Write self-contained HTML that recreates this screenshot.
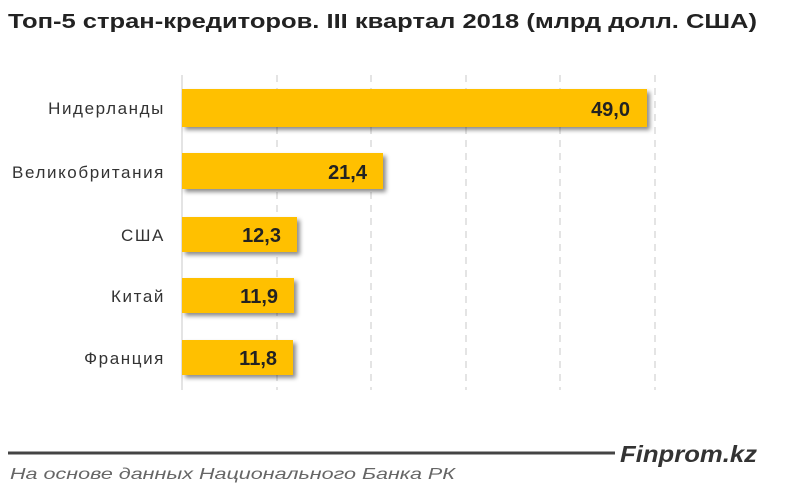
<!DOCTYPE html>
<html><head><meta charset="utf-8"><style>
body{margin:0;width:800px;height:490px;background:#fff;overflow:hidden;font-family:"Liberation Sans",sans-serif;}
</style></head><body>
<svg width="800" height="490" xmlns="http://www.w3.org/2000/svg">
<defs><filter id="sh" x="-5%" y="-20%" width="115%" height="160%"><feDropShadow dx="3" dy="3" stdDeviation="2" flood-color="#000" flood-opacity="0.45"/></filter></defs>
<text x="8" y="28" font-size="20" font-weight="bold" fill="#222" textLength="749" lengthAdjust="spacingAndGlyphs">Топ-5 стран-кредиторов. III квартал 2018  (млрд долл. США)</text>
<g stroke="#c8c8c8" stroke-dasharray="7,6" stroke-width="1">
<line x1="277" y1="75" x2="277" y2="390"/><line x1="371" y1="75" x2="371" y2="390"/><line x1="466" y1="75" x2="466" y2="390"/><line x1="560" y1="75" x2="560" y2="390"/><line x1="655" y1="75" x2="655" y2="390"/>
</g>
<line x1="182" y1="75" x2="182" y2="390" stroke="#c8c8c8"/>
<g fill="#FFC000" filter="url(#sh)">
<rect x="182" y="89" width="465" height="38"/>
<rect x="182" y="153" width="201" height="36"/>
<rect x="182" y="217" width="115" height="35"/>
<rect x="182" y="278" width="112" height="35"/>
<rect x="182" y="340" width="111" height="35"/>
</g>
<g font-size="20" font-weight="bold" fill="#222" text-anchor="end">
<text x="630" y="116">49,0</text><text x="367" y="179">21,4</text><text x="281" y="242">12,3</text><text x="278" y="303">11,9</text><text x="277" y="365">11,8</text>
</g>
<g font-size="17" fill="#333" text-anchor="end" letter-spacing="1.6">
<text x="165" y="114">Нидерланды</text><text x="165" y="178">Великобритания</text><text x="165" y="241">США</text><text x="165" y="302">Китай</text><text x="165" y="364">Франция</text>
</g>
<line x1="8" y1="453" x2="615" y2="453" stroke="#444" stroke-width="3"/>
<text x="620" y="462" font-size="23" font-weight="bold" font-style="italic" fill="#333" textLength="137" lengthAdjust="spacingAndGlyphs">Finprom.kz</text>
<text x="10" y="479" font-size="16" font-style="italic" fill="#666" textLength="445" lengthAdjust="spacingAndGlyphs">На основе данных  Национального  Банка РК</text>
</svg>
</body></html>
